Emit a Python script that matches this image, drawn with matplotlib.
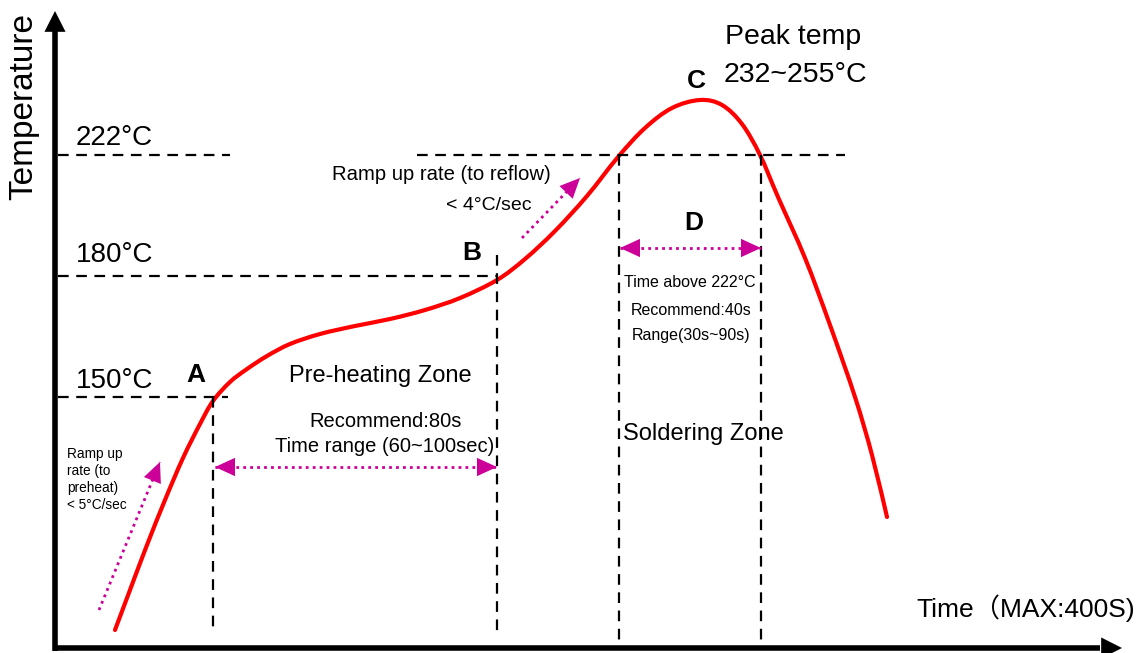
import matplotlib.pyplot as plt
from matplotlib.path import Path
from matplotlib.patches import PathPatch

plt.rcParams['font.family'] = ['Liberation Sans', 'Noto Sans CJK SC', 'DejaVu Sans']

# ---  reflow profile (schematic units, y grows downward)  ---
curve_x = [115, 130, 147, 165, 183, 200, 213, 230, 247, 267, 290, 320, 355, 390,
           425, 460, 497, 525, 555, 587, 618, 645, 672, 700, 722, 742, 760, 778,
           805, 830, 855, 872, 887]
curve_y = [630, 590, 545, 500, 458, 424, 401, 382, 369, 356, 344, 334, 326, 319,
           310, 298, 280, 259, 231, 196, 157, 128, 108, 100, 105, 124, 155, 197,
           258, 325, 397, 455, 517]

# temperature levels: label, y of dashed line, dashed segments
level_labels = ['222°C', '180°C', '150°C']
level_y = [155, 276, 397]
level_segments = [[(58, 230), (417, 845)], [(58, 497)], [(58, 228)]]

# vertical markers: x, top, bottom
marker_x = [213, 497, 619, 761]
marker_top = [397, 255, 155, 155]
marker_bottom = [632, 632, 640, 640]

point_names = ['A', 'B', 'C', 'D']
point_pos = [(196, 382), (472, 260), (696, 88), (694, 230)]

MAGENTA = '#cc0099'

fig = plt.figure(figsize=(11.42, 6.53), dpi=100)
ax = fig.add_axes([0, 0, 1, 1])
ax.set_xlim(0, 1142)
ax.set_ylim(653, 0)
ax.axis('off')

#---  axes arrows  ---
ax.plot([55, 55], [651, 30], color='black', lw=4, solid_capstyle='butt')
ax.plot([53, 1100], [648, 648], color='black', lw=4, solid_capstyle='butt')
head = dict(arrowstyle='-|>,head_length=0.75,head_width=0.38', color='black',
            lw=0, mutation_scale=20, shrinkA=0, shrinkB=0)
ax.annotate('', xy=(55, 11), xytext=(55, 40), arrowprops=head)
ax.annotate('', xy=(1122, 648), xytext=(1090, 648), arrowprops=head)

#---  dashed guide lines  ---
for y, segs in zip(level_y, level_segments):
    for x0, x1 in segs:
        ax.plot([x0, x1], [y, y], color='black', lw=1.6, dashes=(4.8, 3.4))
for x, t, b in zip(marker_x, marker_top, marker_bottom):
    ax.plot([x, x], [t, b], color='black', lw=1.6, dashes=(4.8, 3.4))

#---  profile curve, drawn as a smooth path through the read points  ---
pts = list(zip(curve_x, curve_y))
verts = [pts[0]]
codes = [Path.MOVETO]
for i in range(len(pts) - 1):
    p0 = pts[i - 1] if i > 0 else pts[i]
    p1, p2 = pts[i], pts[i + 1]
    p3 = pts[i + 2] if i + 2 < len(pts) else pts[i + 1]
    c1 = (p1[0] + (p2[0] - p0[0]) / 6, p1[1] + (p2[1] - p0[1]) / 6)
    c2 = (p2[0] - (p3[0] - p1[0]) / 6, p2[1] - (p3[1] - p1[1]) / 6)
    verts += [c1, c2, p2]
    codes += [Path.CURVE4] * 3
ax.add_patch(PathPatch(Path(verts, codes), facecolor='none', edgecolor='#ff0000',
                       lw=3, capstyle='round', joinstyle='round'))

#---  magenta dotted arrows  ---
def dotted_arrow(p0, p1, both=False):
    ax.plot([p0[0], p1[0]], [p0[1], p1[1]], color=MAGENTA, lw=2, ls=(0, (1, 1.5)))
    style = '-|>,head_length=0.72,head_width=0.33'
    dx, dy = p1[0] - p0[0], p1[1] - p0[1]
    d = (dx**2 + dy**2) ** 0.5
    ux, uy = dx / d, dy / d
    ax.annotate('', xy=p1, xytext=(p1[0] - ux * 22, p1[1] - uy * 22),
                arrowprops=dict(arrowstyle=style, color=MAGENTA, lw=0,
                                mutation_scale=20, shrinkA=0, shrinkB=0))
    if both:
        ax.annotate('', xy=p0, xytext=(p0[0] + ux * 22, p0[1] + uy * 22),
                    arrowprops=dict(arrowstyle=style, color=MAGENTA, lw=0,
                                    mutation_scale=20, shrinkA=0, shrinkB=0))

dotted_arrow((99, 610), (160, 462))
dotted_arrow((522, 238), (580, 178))
dotted_arrow((215, 467), (497, 467), both=True)
dotted_arrow((620, 248), (761, 248), both=True)

#---  texts  ---
ax.text(24, 107, 'Temperature', rotation=90, fontsize=24, ha='center', va='center')
for lab, y in zip(level_labels, [145, 262, 388]):
    ax.text(76, y, lab, fontsize=20, ha='left', va='baseline')
for name, (x, y) in zip(point_names, point_pos):
    ax.text(x, y, name, fontsize=19, fontweight='bold', ha='center', va='baseline')

ax.text(725, 44, 'Peak temp', fontsize=20.5, ha='left', va='baseline')
ax.text(724, 82, '232~255°C', fontsize=20.5, ha='left', va='baseline')

ax.text(380, 382, 'Pre-heating Zone', fontsize=17, ha='center', va='baseline')
ax.text(386, 427, 'Recommend:80s', fontsize=14.5, ha='center', va='baseline')
ax.text(385, 452, 'Time range (60~100sec)', fontsize=14.5, ha='center', va='baseline')

ax.text(67, 447, 'Ramp up\nrate (to\npreheat)\n< 5°C/sec', fontsize=9.8,
        ha='left', va='top', linespacing=1.28)

ax.text(551, 180, 'Ramp up rate (to reflow)', fontsize=14.6, ha='right', va='baseline')
ax.text(531, 210, '< 4°C/sec', fontsize=14, ha='right', va='baseline')

ax.text(690, 287, 'Time above 222°C', fontsize=11.5, ha='center', va='baseline')
ax.text(691, 315, 'Recommend:40s', fontsize=11.5, ha='center', va='baseline')
ax.text(691, 340, 'Range(30s~90s)', fontsize=11.5, ha='center', va='baseline')
ax.text(623, 440, 'Soldering Zone', fontsize=17, ha='left', va='baseline')

ax.text(1135, 617, 'Time（MAX:400S)', fontsize=19, ha='right', va='baseline')

plt.savefig('out.png', dpi=100)
